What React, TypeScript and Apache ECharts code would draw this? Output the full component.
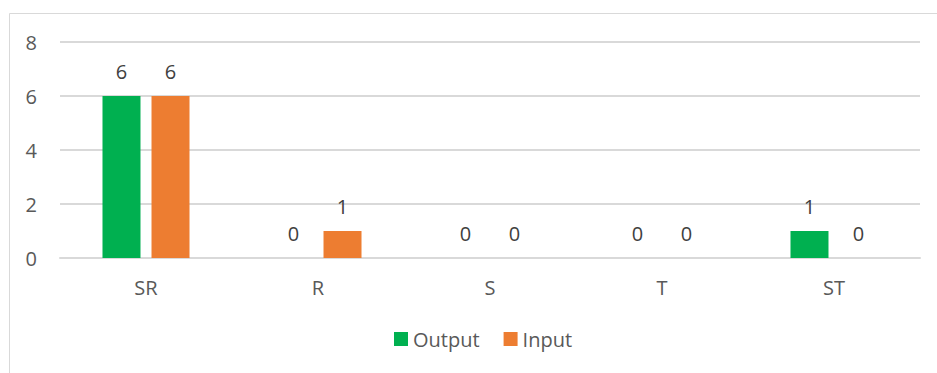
import React, { useEffect, useRef } from "react";
import * as echarts from "echarts";

const categories = ["SR", "R", "S", "T", "ST"];
const outputValues = [6, 0, 0, 0, 1];
const inputValues = [6, 1, 0, 0, 0];
const yTicks = { min: 0, max: 8, interval: 2 };

const FONT = "Open Sans";
const TEXT = "#595959";
const FS = 20;

export default function App() {
  const ref = useRef<HTMLDivElement>(null);
  useEffect(() => {
    const chart = echarts.init(ref.current!, null, { renderer: "svg" });
    const label = {
      show: true,
      position: "top" as const,
      distance: 15,
      color: "#404040",
      fontSize: FS,
      fontFamily: FONT,
    };
    chart.setOption({
      animation: false,
      textStyle: { fontFamily: FONT },
      graphic: [
        {
          type: "rect",
          shape: { x: 9.5, y: 13.5, width: 960, height: 420 },
          style: { fill: "none", stroke: "#d9d9d9", lineWidth: 1 },
          silent: true,
          z: -1,
        },
      ],
      grid: { left: 60, right: 17, top: 42, bottom: 115, containLabel: false },
      legend: {
        data: ["Output", "Input"],
        left: 389,
        top: 324,
        itemWidth: 14,
        itemHeight: 14,
        itemGap: 24,
        icon: "rect",
        textStyle: { color: TEXT, fontSize: FS, fontFamily: FONT },
      },
      xAxis: {
        type: "category",
        data: categories,
        axisLine: { show: true, lineStyle: { color: "#d9d9d9", width: 2 } },
        axisTick: { show: false },
        axisLabel: { color: TEXT, fontSize: FS, fontFamily: FONT, margin: 19 },
      },
      yAxis: {
        type: "value",
        min: yTicks.min,
        max: yTicks.max,
        interval: yTicks.interval,
        axisLine: { show: false },
        axisTick: { show: false },
        splitLine: { lineStyle: { color: "#d9d9d9", width: 2 } },
        axisLabel: { color: TEXT, fontSize: FS, fontFamily: FONT, margin: 23 },
      },
      series: [
        {
          name: "Output",
          type: "bar",
          data: outputValues,
          barWidth: 38,
          barGap: "29%",
          itemStyle: { color: "#00B050" },
          label,
        },
        {
          name: "Input",
          type: "bar",
          data: inputValues,
          barWidth: 38,
          itemStyle: { color: "#ED7D31" },
          label,
        },
      ],
    });
    return () => chart.dispose();
  }, []);
  return (
    <div
      ref={ref}
      style={{ position: "fixed", left: 0, top: 0, width: 937, height: 373, background: "#fff" }}
    />
  );
}
